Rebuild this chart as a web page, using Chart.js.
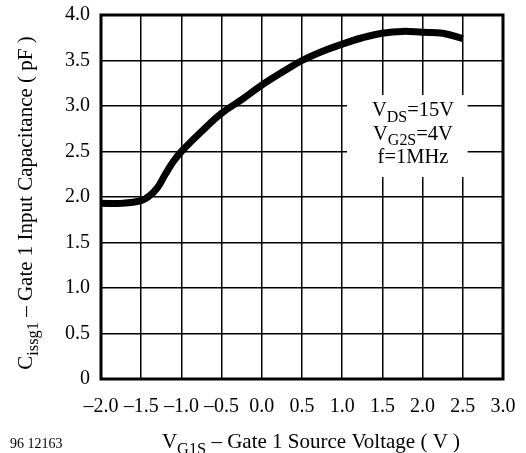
<!DOCTYPE html>
<html>
<head>
<meta charset="utf-8">
<script src="https://cdn.jsdelivr.net/npm/chart.js@4/dist/chart.umd.min.js"></script>
<style>
  html, body { margin: 0; padding: 0; background: #fff; }
  #wrap { width: 526px; height: 453px; }
</style>
</head>
<body>
<div id="wrap"><canvas id="capChart" width="526" height="453"></canvas></div>
<script>
// Datos
const gateVoltage = [-2.0, -1.75, -1.5, -1.4, -1.3, -1.2, -1.1, -1.0, -0.75, -0.5, -0.25, 0.0, 0.25, 0.5, 0.75, 1.0, 1.25, 1.5, 1.75, 2.0, 2.25, 2.5];
const inputCap = [1.93, 1.93, 1.96, 2.01, 2.1, 2.25, 2.39, 2.5, 2.72, 2.92, 3.07, 3.23, 3.37, 3.5, 3.6, 3.68, 3.75, 3.8, 3.82, 3.81, 3.8, 3.74];
const xTicks = [-2.0, -1.5, -1.0, -0.5, 0.0, 0.5, 1.0, 1.5, 2.0, 2.5, 3.0];
const yTicks = [0, 0.5, 1.0, 1.5, 2.0, 2.5, 3.0, 3.5, 4.0];
const noteLines = [
  [{ t: 'V' }, { t: 'DS', sub: true }, { t: '=15V' }],
  [{ t: 'V' }, { t: 'G2S', sub: true }, { t: '=4V' }],
  [{ t: 'f=1MHz' }]
];
const yTitle = [{ t: 'C' }, { t: 'issg1', sub: true }, { t: ' \u2013 Gate 1 Input Capacitance ( pF )' }];
const xTitle = [{ t: 'V' }, { t: 'G1S', sub: true }, { t: ' \u2013 Gate 1 Source Voltage ( V )' }];
const figId = '96 12163';

const FONT = '"Liberation Serif", "Times New Roman", serif';

function segWidth(ctx, segs, size) {
  let w = 0;
  segs.forEach(s => {
    ctx.font = (s.sub ? size * 0.78 : size) + 'px ' + FONT;
    w += ctx.measureText(s.t).width;
  });
  return w;
}

function drawSegs(ctx, segs, x, y, size) {
  // x = inicio, y = linea base
  let cx = x;
  segs.forEach(s => {
    const fs = s.sub ? size * 0.78 : size;
    ctx.font = fs + 'px ' + FONT;
    ctx.fillText(s.t, cx, s.sub ? y + size * 0.28 : y);
    cx += ctx.measureText(s.t).width;
  });
}

const decorPlugin = {
  id: 'decor',
  beforeDatasetsDraw(chart) {
    const ctx = chart.ctx;
    const xs = chart.scales.x, ys = chart.scales.y;
    // caja blanca de la nota
    const bx1 = xs.getPixelForValue(1.06), bx2 = xs.getPixelForValue(2.56);
    const by1 = ys.getPixelForValue(3.12), by2 = ys.getPixelForValue(2.22);
    ctx.save();
    ctx.fillStyle = '#fff';
    ctx.fillRect(bx1, by1, bx2 - bx1, by2 - by1);
    ctx.fillStyle = '#000';
    ctx.textBaseline = 'alphabetic';
    const cxm = xs.getPixelForValue(1.88);
    noteLines.forEach((line, i) => {
      const w = segWidth(ctx, line, 20.5);
      drawSegs(ctx, line, cxm - w / 2, by1 + 21 + i * 23.5, 20.5);
    });
    ctx.restore();
  },
  afterDraw(chart) {
    const ctx = chart.ctx;
    const a = chart.chartArea;
    ctx.save();
    // marco
    ctx.strokeStyle = '#000';
    ctx.lineWidth = 3;
    ctx.strokeRect(a.left, a.top, a.right - a.left, a.bottom - a.top);
    ctx.fillStyle = '#000';
    ctx.textBaseline = 'alphabetic';
    // titulo eje x
    const wx = segWidth(ctx, xTitle, 21);
    drawSegs(ctx, xTitle, 311 - wx / 2, 448, 21);
    // id de figura
    ctx.font = '14px ' + FONT;
    ctx.fillText(figId, 10, 448);
    // titulo eje y (rotado)
    ctx.translate(32, 203);
    ctx.rotate(-Math.PI / 2);
    const wy = segWidth(ctx, yTitle, 21);
    drawSegs(ctx, yTitle, -wy / 2, 0, 21);
    ctx.restore();
  }
};

new Chart(document.getElementById('capChart'), {
  type: 'line',
  data: {
    datasets: [{
      data: gateVoltage.map((v, i) => ({ x: v, y: inputCap[i] })),
      borderColor: '#000',
      borderWidth: 7,
      pointRadius: 0,
      fill: false,
      tension: 0.4
    }]
  },
  options: {
    responsive: false,
    animation: false,
    layout: { padding: { top: 15, right: 23, left: 0, bottom: 0 } },
    plugins: { legend: { display: false }, tooltip: { enabled: false } },
    scales: {
      x: {
        type: 'linear',
        min: -2, max: 3,
        afterBuildTicks: s => { s.ticks = xTicks.map(v => ({ value: v })); },
        afterFit: s => { s.height = 74; s.paddingLeft = 0; s.paddingRight = 0; },
        grid: { color: '#000', lineWidth: 1.5, drawTicks: false },
        border: { display: false },
        ticks: {
          color: '#000',
          padding: 16,
          maxRotation: 0,
          autoSkip: false,
          font: { family: FONT, size: 20 },
          callback: v => (v < 0 ? '\u2013' + Math.abs(v).toFixed(1) : v.toFixed(1))
        }
      },
      y: {
        min: 0, max: 4,
        afterBuildTicks: s => { s.ticks = yTicks.map(v => ({ value: v })); },
        afterFit: s => { s.width = 101; s.paddingTop = 0; s.paddingBottom = 0; },
        grid: { color: '#000', lineWidth: 1.5, drawTicks: false },
        border: { display: false },
        ticks: {
          color: '#000',
          padding: 11,
          font: { family: FONT, size: 20 },
          callback: v => (v === 0 ? '0' : v.toFixed(1))
        }
      }
    }
  },
  plugins: [decorPlugin]
});
</script>
</body>
</html>
